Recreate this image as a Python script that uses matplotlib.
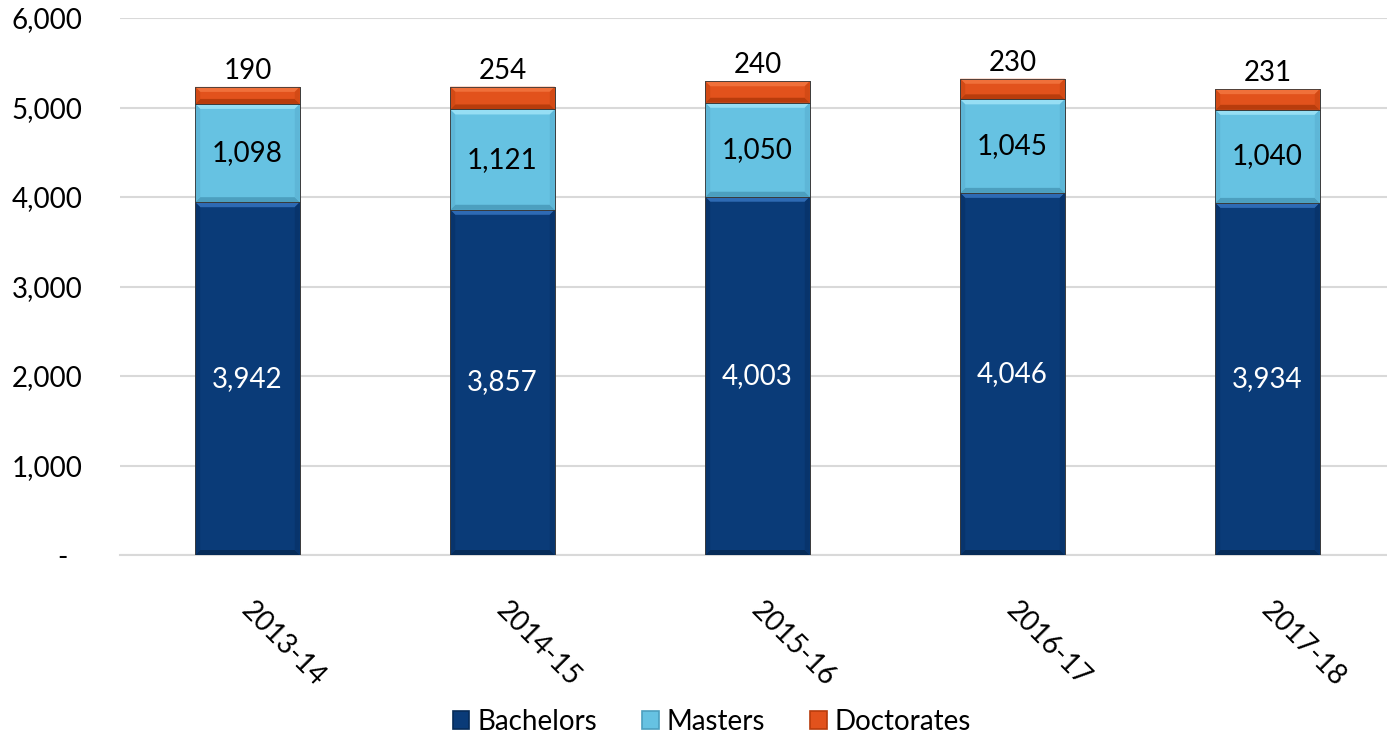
import matplotlib
matplotlib.use("Agg")
import matplotlib.pyplot as plt
from matplotlib.patches import Polygon, Patch
from matplotlib.ticker import FixedLocator, FixedFormatter
import numpy as np

years = ["2013-14", "2014-15", "2015-16", "2016-17", "2017-18"]
bachelors = [3942, 3857, 4003, 4046, 3934]
masters = [1098, 1121, 1050, 1045, 1040]
doctorates = [190, 254, 240, 230, 231]
series_names = ["Bachelors", "Masters", "Doctorates"]
yticks = [0, 1000, 2000, 3000, 4000, 5000, 6000]
ytick_labels = ["-  ", "1,000", "2,000", "3,000", "4,000", "5,000", "6,000"]

# main, top-bevel highlight, bottom-bevel shade, side shade
colors = {
    "Bachelors": ("#0A3B78", "#2E6AB4", "#062B58", "#08336A"),
    "Masters": ("#66C2E2", "#96DEF4", "#4C9FBF", "#5CB4D5"),
    "Doctorates": ("#E2521C", "#F0703A", "#B83C0C", "#D04914"),
}

plt.rcParams["font.family"] = ["Lato", "DejaVu Sans"]

W, H = 1387, 737
fig = plt.figure(figsize=(W / 100, H / 100), dpi=100)
ax = fig.add_axes([120 / W, (H - 555) / H, 1275 / W, (555 - 18) / H])

x = np.arange(len(years))
width = 0.41
bottoms = np.zeros(len(years))
data = [bachelors, masters, doctorates]

bev_px = 5
px_x = 1.0 / 255.0  # data units per pixel in x
px_y = 6000.0 / 537.0  # data units per pixel in y

for name, vals in zip(series_names, data):
    main, hi, lo, side = colors[name]
    bars = ax.bar(x, vals, width, bottom=bottoms, color=main,
                  edgecolor="#4a4a4a", linewidth=0.6, zorder=3)
    for b in bars:
        x0, y0 = b.get_x(), b.get_y()
        w, h = b.get_width(), b.get_height()
        bx = min(bev_px * px_x, w / 4)
        by = min(bev_px * px_y, h / 3)
        x1, y1 = x0 + w, y0 + h
        ax.add_patch(Polygon([(x0, y1), (x1, y1), (x1 - bx, y1 - by), (x0 + bx, y1 - by)],
                             closed=True, facecolor=hi, edgecolor="none", zorder=4))
        ax.add_patch(Polygon([(x0, y0), (x1, y0), (x1 - bx, y0 + by), (x0 + bx, y0 + by)],
                             closed=True, facecolor=lo, edgecolor="none", zorder=4))
        ax.add_patch(Polygon([(x0, y0), (x0, y1), (x0 + bx, y1 - by), (x0 + bx, y0 + by)],
                             closed=True, facecolor=side, edgecolor="none", zorder=4, alpha=0.8))
        ax.add_patch(Polygon([(x1, y0), (x1, y1), (x1 - bx, y1 - by), (x1 - bx, y0 + by)],
                             closed=True, facecolor=side, edgecolor="none", zorder=4, alpha=0.8))
        ax.add_patch(plt.Rectangle((x0, y0), w, h, facecolor="none",
                                   edgecolor="#3a3a3a", linewidth=0.6, zorder=5))
    bottoms = bottoms + np.array(vals)

for i in range(len(years)):
    b, m, d = bachelors[i], masters[i], doctorates[i]
    ax.text(x[i], b / 2, f"{b:,}", ha="center", va="center", color="white",
            fontsize=20, zorder=6)
    ax.text(x[i], b + m / 2, f"{m:,}", ha="center", va="center", color="black",
            fontsize=20, zorder=6)
    ax.annotate(f"{d:,}", (x[i], b + m + d), xytext=(0, 2), textcoords="offset points",
                ha="center", va="bottom", color="black", fontsize=20, zorder=6)

ax.set_xlim(-0.5, len(years) - 0.5)
ax.set_ylim(0, 6000)
ax.yaxis.set_major_locator(FixedLocator(yticks))
ax.yaxis.set_major_formatter(FixedFormatter(ytick_labels))
ax.tick_params(axis="y", length=0, pad=27, labelsize=20)
ax.tick_params(axis="x", length=0)
ax.set_xticks(x)
ax.set_xticklabels([])
for i, yr in enumerate(years):
    ax.annotate(yr, (x[i], 0), xytext=(-8, -30), textcoords="offset points",
                rotation=-45, ha="left", va="top", fontsize=20,
                annotation_clip=False)

ax.grid(axis="y", color="#D9D9D9", linewidth=1.5, zorder=0)
for s in ["top", "right", "left"]:
    ax.spines[s].set_visible(False)
ax.spines["bottom"].set_color("#D9D9D9")
ax.spines["bottom"].set_linewidth(1.5)
ax.set_axisbelow(True)

handles = [Patch(facecolor=colors[n][0], edgecolor=colors[n][2], linewidth=1.2) for n in series_names]
fig.legend(handles, series_names, loc="center", bbox_to_anchor=(712 / W, (H - 722) / H),
           ncol=3, frameon=False, fontsize=20, handlelength=0.6, handleheight=0.6,
           handletextpad=0.3, columnspacing=1.6)

fig.savefig("out.png", dpi=100)
